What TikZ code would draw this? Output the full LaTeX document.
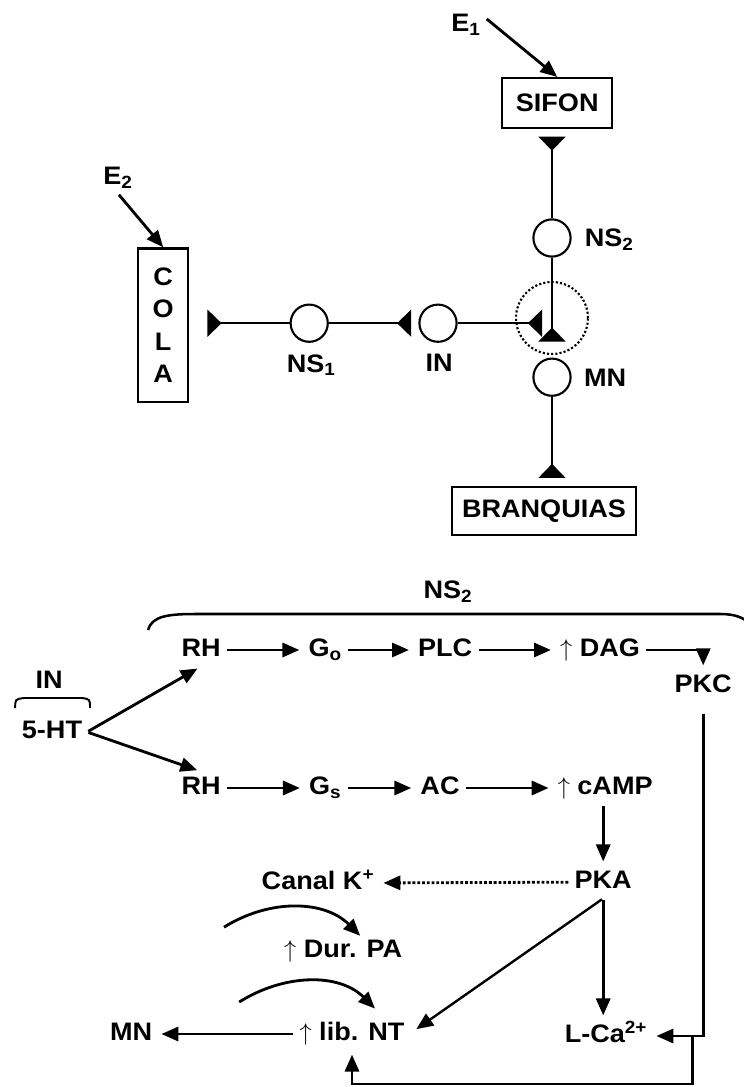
\documentclass[tikz,border=0pt]{standalone}
\usepackage{fontspec}
\setmainfont{Liberation Sans}[FakeStretch=1.07]
\usepackage{tikz}
\usetikzlibrary{arrows.meta,calc,positioning}

\begin{document}
\begin{tikzpicture}[
  font=\fontsize{18}{20}\selectfont\bfseries,
  txt/.style={text height=12.8pt, text depth=3.5pt},
  neuron/.style={circle, draw, line width=1.5pt, minimum size=0.93cm, inner sep=0pt},
  organ/.style={draw, line width=1.8pt, inner sep=0pt},
  axon/.style={line width=1.7pt, -{Triangle[reversed,length=10pt,width=19pt]}},
  arr/.style={line width=2pt, -{Triangle[length=12pt,width=10pt]}, shorten <=1pt, shorten >=3pt},
  ]
  \useasboundingbox (0,0) rectangle (18.6,-27.175);

  % Reflex circuit
  \node[organ, minimum width=2.75cm, minimum height=1.25cm] (sifon) at (13.93,-2.58) {SIFON};
  \node[organ, minimum width=1.25cm, minimum height=3.83cm, align=center,
        font=\fontsize{18}{23}\selectfont\bfseries] (cola) at (4.08,-8.13) {C\\O\\L\\A};
  \node[organ, minimum width=4.6cm, minimum height=1.2cm] (branquias) at (13.6,-12.78) {BRANQUIAS};
  \node (e1) at (11.65,-0.63) {E\textsubscript{1}};
  \node (e2) at (2.95,-4.45) {E\textsubscript{2}};
  \draw[arr, shorten >=0pt] (e1.20) -- (sifon.north);
  \draw[arr, shorten >=0pt] (e2.south) -- (cola.north);

  \node[neuron] (ns2) at (13.8,-5.95) {};
  \node[neuron] (mn) at (13.8,-9.43) {};
  \node[neuron] (in) at (10.95,-8.08) {};
  \node[neuron] (ns1) at (7.73,-8.08) {};
  \node[circle, draw, line width=1.5pt, dash pattern=on 1.5pt off 1.5pt, minimum size=1.8cm] (syn) at (13.8,-7.95) {};

  \node (ns2lab) at (15.23,-6.0) {NS\textsubscript{2}};
  \node (mnlab) at (15.13,-9.45) {MN};
  \node (inlab) at (10.98,-9.08) {IN};
  \node (ns1lab) at (7.78,-9.13) {NS\textsubscript{1}};

  \draw[axon, shorten >=0.18cm] (ns2.north) -- (ns2.north |- sifon.south);
  \draw[axon, shorten >=0.4cm] (ns2.south) -- (mn.north);
  \draw[axon, shorten >=0.25cm] (in.east) -- (in.east -| ns2);
  \draw[axon, shorten >=0.18cm] (ns1.east) -- (in.west);
  \draw[axon, shorten >=0.45cm] (ns1.west) -- (ns1.west -| cola.east);
  \draw[axon, shorten >=0.2cm] (mn.south) -- (mn.south |- branquias.north);

  % Second messenger cascade in NS2
  \node (ns2top) at (11.2,-14.8) {NS\textsubscript{2}};
  \draw[line width=1.8pt] (3.7,-15.75) .. controls (3.8,-15.4) and (4.2,-15.35) .. (4.9,-15.35)
    -- (18.0,-15.35) .. controls (18.4,-15.35) and (18.6,-15.45) .. (18.75,-15.6);

  \node (inb) at (1.23,-17.0) {IN};
  \draw[line width=1.4pt] (0.38,-17.7) .. controls (0.38,-17.48) .. (0.6,-17.45)
    -- (2.05,-17.45) .. controls (2.25,-17.48) .. (2.25,-17.7);
  \node[txt] (ht) at (1.3,-18.3) {5-HT};

  \node[txt] (rh1) at (5.03,-16.25) {RH};
  \node[txt] (go) at (8.13,-16.25) {G\textsubscript{o}};
  \node[txt] (plc) at (11.13,-16.25) {PLC};
  \node[txt] (dag) at (15.0,-16.25) {$\uparrow$ DAG};
  \node[txt] (pkc) at (17.58,-17.15) {PKC};

  \node[txt] (rh2) at (5.03,-19.7) {RH};
  \node[txt] (gs) at (8.13,-19.7) {G\textsubscript{s}};
  \node[txt] (ac) at (11.0,-19.7) {AC};
  \node[txt] (camp) at (15.13,-19.7) {$\uparrow$ cAMP};

  \draw[arr] (ht.east) -- (rh1.south);
  \draw[arr] (ht.east) -- (rh2.north);
  \draw[arr] (rh1) -- (go);
  \draw[arr] (go) -- (plc);
  \draw[arr] (plc) -- (dag);
  \draw[arr] (dag) -| (pkc);
  \draw[arr] (rh2) -- (gs);
  \draw[arr] (gs) -- (ac);
  \draw[arr] (ac) -- (camp);

  % Effects of the kinases
  \node[txt] (pka) at (15.08,-22.05) {PKA};
  \node[txt] (canal) at (7.95,-22.08) {Canal K\textsuperscript{+}};
  \node[txt] (durpa) at (8.58,-23.78) {$\uparrow$ Dur. PA};
  \node[txt] (libnt) at (8.8,-25.85) {$\uparrow$ lib. NT};
  \node[txt] (mnb) at (3.28,-25.85) {MN};
  \node[txt] (lca) at (15.15,-25.9) {L-Ca\textsuperscript{2+}};

  \draw[arr] (pka.north |- camp.south) -- (pka.north);
  \draw[arr, dash pattern=on 2pt off 1.4pt] (pka) -- (canal);
  \draw[arr, shorten <=8pt] (pkc.south) |- (lca);
  \draw[arr] (pka.south) -- (pka.south |- lca.north);
  \draw[arr, line width=1.7pt, shorten >=6pt] (pka.south) -- (libnt.east);
  \draw[arr] (libnt) -- (mnb);
  \coordinate (fb) at ([xshift=1cm]lca.east);
  \draw[arr] (fb) -- ++(0,-1.2) -| (libnt.south);

  \coordinate (c1) at (5.6,-23.18);
  \coordinate (c2) at (5.98,-25.05);
  \draw[arr, shorten <=0pt] (c1) to[out=32, in=135] ([xshift=0.5cm,yshift=-0.1cm]durpa.north);
  \draw[arr, shorten <=0pt] (c2) to[out=32, in=135] ([xshift=0.65cm,yshift=0.15cm]libnt.north);
\end{tikzpicture}
\end{document}
